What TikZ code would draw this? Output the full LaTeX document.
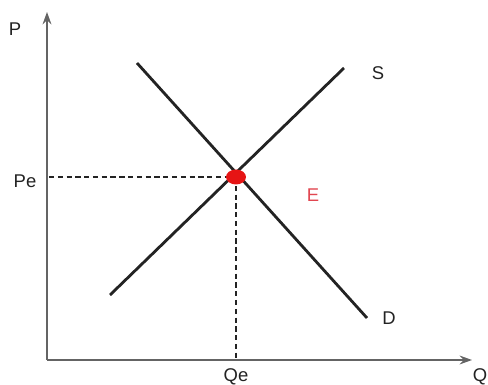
\documentclass[tikz,border=0pt]{standalone}
\usepackage{fontspec}
\setmainfont{Liberation Sans}
\usepackage{xcolor}
\usetikzlibrary{arrows.meta}
\definecolor{axisgray}{RGB}{100, 100, 100}
\definecolor{curve}{RGB}{35, 35, 35}
\definecolor{eqred}{RGB}{230, 20, 20}
\definecolor{lblred}{RGB}{225, 70, 80}

\begin{document}
\begin{tikzpicture}[x=0.02cm, y=-0.02cm,
  axis/.style  = {-{Stealth[length=7pt, width=5pt]}, line width=1.1pt, color=axisgray},
  line/.style  = {line width=1.6pt, color=curve},
  guide/.style = {dashed, line width=0.6pt, color=curve, dash pattern=on 3pt off 2pt},
  lbl/.style   = {font=\fontsize{10.5}{12}\selectfont, color=curve, inner sep=1pt}
]
  \useasboundingbox (0,0) rectangle (488,385);

  % ---- axes ----
  \coordinate (origin) at (47,360);
  \coordinate (ptop)   at (47,12);
  \coordinate (qend)   at (472,360);
  \draw[axis] (origin) -- (ptop);
  \draw[axis] (origin) -- (qend);
  \node[lbl] at (15,29)  (plbl) {P};
  \node[lbl] at (480,377) (qlbl) {Q};

  % ---- supply and demand ----
  \coordinate (s0) at (110,295);
  \coordinate (s1) at (344,68);
  \coordinate (d0) at (137,63);
  \coordinate (d1) at (367,318);
  \draw[line] (s0) -- (s1);
  \draw[line] (d0) -- (d1);
  \node[lbl] at (378,73)  (slbl) {S};
  \node[lbl] at (389,318) (dlbl) {D};

  % ---- equilibrium ----
  \coordinate (eq) at (236,177);
  \coordinate (peq) at (49,177);
  \coordinate (qeq) at (236,359);
  \draw[guide] (peq) -- (eq);
  \draw[guide] (eq) -- (qeq);
  \node[lbl] at (25,181)  (pelbl) {Pe};
  \node[lbl] at (236,377) (qelbl) {Qe};
  \fill[eqred] (eq) ellipse (10 and 7.5);
  \node[lbl, color=lblred] at (313,195) (elbl) {E};
\end{tikzpicture}
\end{document}
